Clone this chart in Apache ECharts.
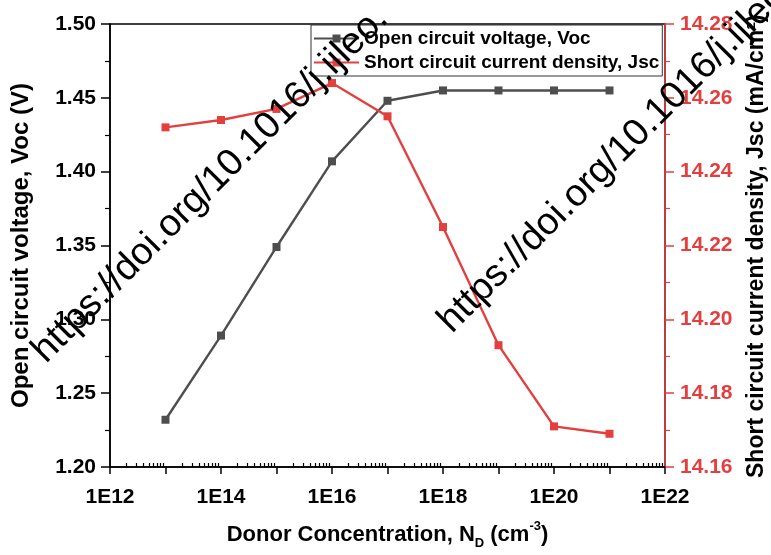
<!DOCTYPE html>
<html>
<head>
<meta charset="utf-8">
<script src="https://cdn.jsdelivr.net/npm/echarts@6/dist/echarts.min.js"></script>
<style>
html,body{margin:0;padding:0;background:#fff;}
#chart{width:771px;height:555px;}
</style>
</head>
<body>
<div id="chart"></div>
<script>
// ---- data ----
const concentrations = [1e13, 1e14, 1e15, 1e16, 1e17, 1e18, 1e19, 1e20, 1e21];
const vocValues = [1.232, 1.289, 1.349, 1.407, 1.448, 1.455, 1.455, 1.455, 1.455];
const jscValues = [14.252, 14.254, 14.257, 14.264, 14.255, 14.225, 14.193, 14.171, 14.169];
const xLabelTicks = [1e12, 1e14, 1e16, 1e18, 1e20, 1e22];
const xDecadeTicks = [1e12, 1e13, 1e14, 1e15, 1e16, 1e17, 1e18, 1e19, 1e20, 1e21, 1e22];
const seriesNames = ['Open circuit voltage, Voc', 'Short circuit current density, Jsc'];
const watermark = 'https://doi.org/10.1016/j.ijleo.';

const xMinor = [];
for (let n = 12; n < 22; n++) for (let k = 2; k <= 9; k++) xMinor.push(k * Math.pow(10, n));

const FONT = '"Liberation Sans", Arial, sans-serif';
const GRAY = '#4e4e4e';
const RED = '#e33f3f';

const chart = echarts.init(document.getElementById('chart'), null, {renderer: 'canvas'});
chart.setOption({
  backgroundColor: '#fff',
  animation: false,
  grid: {left: 110, right: 106, top: 24, bottom: 84, show: true, borderColor: '#000', borderWidth: 1.5, backgroundColor: 'transparent'},
  legend: {
    orient: 'vertical', left: 311, top: 25,
    itemWidth: 45, itemHeight: 10, itemGap: 5,
    padding: [4, 3, 4, 2],
    borderColor: '#333', borderWidth: 1,
    textStyle: {fontFamily: FONT, fontWeight: 'bold', fontSize: 19, color: '#000'},
    data: seriesNames
  },
  xAxis: [{
    type: 'log', logBase: 10, min: 1e12, max: 1e22, position: 'bottom',
    name: 'Donor Concentration, N{sub|D} (cm{sup|-3})',
    nameLocation: 'middle', nameGap: 53,
    nameTextStyle: {
      fontFamily: FONT, fontWeight: 'bold', fontSize: 22, color: '#000', lineHeight: 30,
      rich: {
        sub: {fontFamily: FONT, fontWeight: 'bold', fontSize: 13, color: '#000', verticalAlign: 'bottom', lineHeight: 30},
        sup: {fontFamily: FONT, fontWeight: 'bold', fontSize: 13, color: '#000', verticalAlign: 'top', lineHeight: 30}
      }
    },
    axisLine: {lineStyle: {color: '#000', width: 1.5}},
    axisTick: {customValues: xDecadeTicks, length: 7, lineStyle: {color: '#000', width: 1.5}},
    axisLabel: {customValues: xLabelTicks, margin: 20, fontFamily: FONT, fontWeight: 'bold', fontSize: 21, color: '#000',
      formatter: v => '1E' + Math.round(Math.log10(v))},
    splitLine: {show: false}
  }, {
    type: 'log', logBase: 10, min: 1e12, max: 1e22, position: 'bottom', offset: 0,
    axisLine: {show: false},
    axisTick: {customValues: xMinor, inside: true, length: 4, lineStyle: {color: '#000', width: 1.2}},
    axisLabel: {show: false},
    splitLine: {show: false}
  }],
  yAxis: [{
    type: 'value', min: 1.2, max: 1.5, interval: 0.05, position: 'left',
    name: 'Open circuit voltage, Voc (V)', nameLocation: 'middle', nameGap: 77,
    nameTextStyle: {fontFamily: FONT, fontWeight: 'bold', fontSize: 24, color: '#000'},
    axisLine: {show: true, lineStyle: {color: '#000', width: 1.5}},
    axisTick: {show: true, length: 9, lineStyle: {color: '#000', width: 1.5}},
    minorTick: {show: true, splitNumber: 2, length: 5, lineStyle: {color: '#000', width: 1.2}},
    axisLabel: {margin: 14, fontFamily: FONT, fontWeight: 'bold', fontSize: 21, color: '#000', formatter: v => v.toFixed(2)},
    splitLine: {show: false}
  }, {
    type: 'value', min: 14.16, max: 14.28, interval: 0.02, position: 'right',
    axisLine: {show: true, lineStyle: {color: RED, width: 1.5}},
    axisTick: {show: true, length: 9, lineStyle: {color: RED, width: 1.5}},
    minorTick: {show: true, splitNumber: 2, length: 5, lineStyle: {color: RED, width: 1.2}},
    axisLabel: {margin: 15, fontFamily: FONT, fontWeight: 'bold', fontSize: 21, color: RED, formatter: v => v.toFixed(2)},
    splitLine: {show: false}
  }],
  series: [{
    name: seriesNames[0], type: 'line', xAxisIndex: 0, yAxisIndex: 0,
    data: concentrations.map((c, i) => [c, vocValues[i]]),
    symbol: 'rect', symbolSize: 8, showSymbol: true,
    itemStyle: {color: GRAY}, lineStyle: {color: GRAY, width: 2.4}
  }, {
    name: seriesNames[1], type: 'line', xAxisIndex: 0, yAxisIndex: 1,
    data: concentrations.map((c, i) => [c, jscValues[i]]),
    symbol: 'rect', symbolSize: 8, showSymbol: true,
    itemStyle: {color: RED}, lineStyle: {color: RED, width: 2.4}
  }],
  graphic: [{
    type: 'text', x: 757, y: 478, rotation: Math.PI / 2, silent: true,
    style: {text: 'Short circuit current density, Jsc (mA/cm²)', font: 'bold 23px "Liberation Sans", Arial', fill: '#000', align: 'left', verticalAlign: 'middle'}
  }, {
    type: 'text', x: 52, y: 370, rotation: Math.PI / 4, silent: true, z: 100,
    style: {text: watermark, font: '38px "Liberation Sans", Arial', fill: '#000', align: 'left', verticalAlign: 'bottom'}
  }, {
    type: 'text', x: 458, y: 340, rotation: Math.PI / 4, silent: true, z: 100,
    style: {text: watermark, font: '38px "Liberation Sans", Arial', fill: '#000', align: 'left', verticalAlign: 'bottom'}
  }]
});
</script>
</body>
</html>
